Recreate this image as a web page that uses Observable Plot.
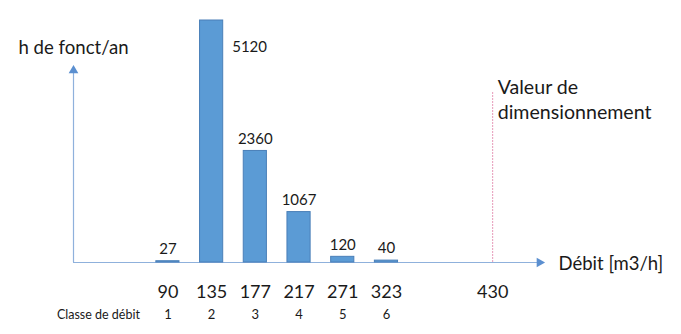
<!DOCTYPE html>
<html><head><meta charset="utf-8">
<script src="https://cdn.jsdelivr.net/npm/d3@7"></script>
<script src="https://cdn.jsdelivr.net/npm/@observablehq/plot@0.6"></script>
<style>body{margin:0;background:#fff}</style>
</head><body><div id="chart"></div>
<script>
// Data
const classes = [1, 2, 3, 4, 5, 6];
const debits = [90, 135, 177, 217, 271, 323];
const hours = [27, 5120, 2360, 1067, 120, 40];
const dimDebit = 430;
const dimClassPos = 8.43;       // estimated position of the dimensioning value on the class axis
const yLabel = "h de fonct/an";
const xLabel = "Débit [m3/h]";
const dimLabel = "Valeur de\ndimensionnement";
const classLabel = "Classe de débit";
const xAxisExtent = [-1.16, 9.57];
const yAxisTop = 4125;
const dimLineTop = 3600;

const bars = classes.map((c, i) => ({classe: c, debit: debits[i], h: hours[i]}));
const maxH = d3.max(hours);
const font = "Lato, 'Open Sans', sans-serif";
const axisColor = "#8fb1dc";
const txt = "#1a1a1a";

const chart = Plot.plot({
  width: 681, height: 334,
  marginLeft: 73, marginRight: 139, marginTop: 20, marginBottom: 72,
  x: {domain: xAxisExtent, axis: null},
  y: {domain: [0, maxH], axis: null},
  style: {fontFamily: font, background: "white", overflow: "visible"},
  marks: [
    // axes
    Plot.ruleY([0], {x1: xAxisExtent[0], x2: xAxisExtent[1], stroke: axisColor, strokeWidth: 1.2}),
    Plot.ruleX([xAxisExtent[0]], {y1: 0, y2: yAxisTop, stroke: axisColor, strokeWidth: 1.2}),
    Plot.dot([{x: xAxisExtent[0], y: yAxisTop}], {x: "x", y: "y", symbol: "triangle", r: 3.6, fill: "#5b8fd0", stroke: null, dy: 3}),
    Plot.dot([{x: xAxisExtent[1], y: 0}], {x: "x", y: "y", symbol: "triangle", r: 3.6, fill: "#5b8fd0", stroke: null, rotate: 90, dx: -3}),
    // dimensioning line
    Plot.ruleX([dimClassPos], {y1: 0, y2: dimLineTop, stroke: "#e79ab8", strokeWidth: 1, strokeDasharray: "2,1"}),
    // bars
    Plot.rectY(bars, {x1: d => d.classe - 0.265, x2: d => d.classe + 0.265, y: "h", fill: "#5b9bd5", stroke: "#4a7fb8", strokeWidth: 1}),
    // value labels
    Plot.text(bars.filter(d => d.h !== maxH), {x: "classe", y: "h", text: d => String(d.h), dy: -12, fontSize: 15, fill: txt}),
    Plot.text(bars.filter(d => d.h === maxH), {x: d => d.classe + 0.265, y: "h", text: d => String(d.h), textAnchor: "start", dx: 9, dy: 27, fontSize: 15, fill: txt}),
    // debit labels under axis
    Plot.text(bars, {x: "classe", y: 0, text: d => String(d.debit), dy: 30, fontSize: 18, fill: txt}),
    Plot.text([dimDebit], {x: dimClassPos, y: 0, text: d => String(d), dy: 30, fontSize: 18, fill: txt}),
    // class numbers
    Plot.text(bars, {x: "classe", y: 0, text: d => String(d.classe), dy: 52, fontSize: 13, fill: txt}),
    Plot.text([classLabel], {x: classes[0], y: 0, text: d => d, textAnchor: "end", dx: -28, dy: 52, fontSize: 12.5, fill: txt}),
    // axis titles
    Plot.text([yLabel], {x: xAxisExtent[0], y: yAxisTop, text: d => d, dy: -19, fontSize: 18.6, fill: txt}),
    Plot.text([xLabel], {x: xAxisExtent[1], y: 0, text: d => d, textAnchor: "start", dx: 16, dy: 2, fontSize: 18.5, fill: txt}),
    Plot.text([dimLabel], {x: dimClassPos, y: dimLineTop, text: d => d, textAnchor: "start", lineAnchor: "middle", lineHeight: 1.3, dx: 5, dy: 6, fontSize: 19.6, fill: txt})
  ]
});
document.getElementById("chart").appendChild(chart);
</script>
</body></html>
